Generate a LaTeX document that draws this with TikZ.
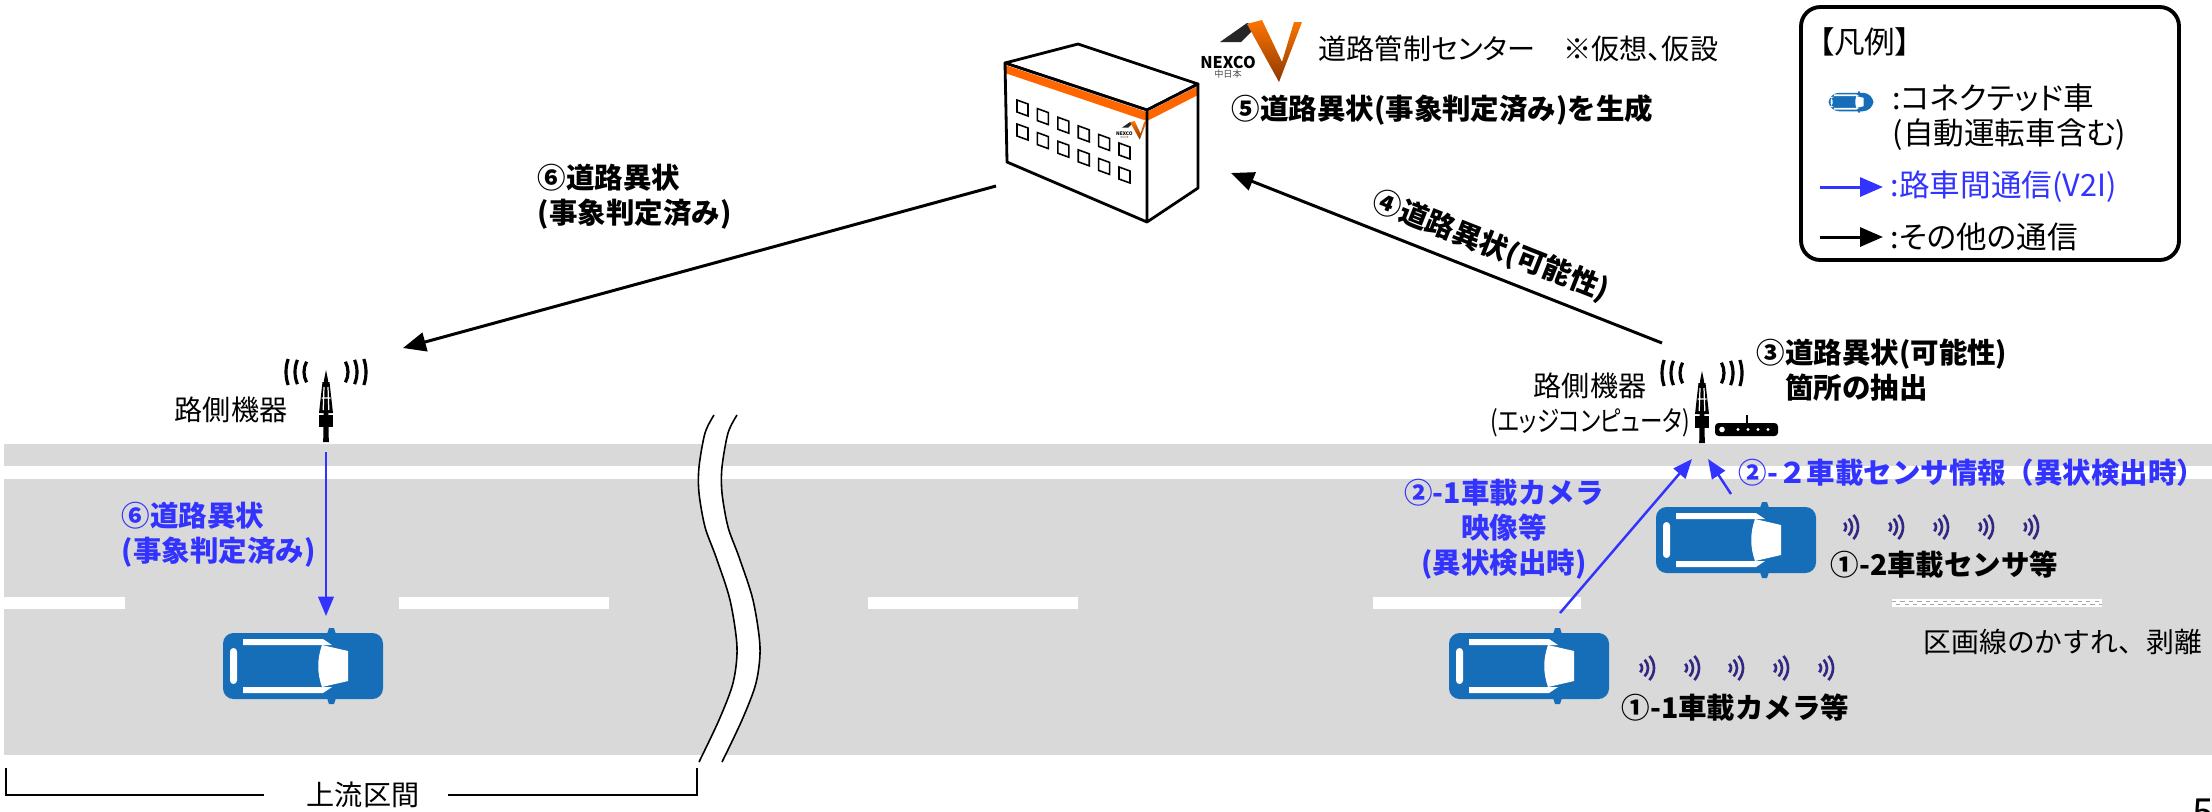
\documentclass[tikz,border=0pt]{standalone}
\usepackage{fontspec}
\setmainfont{Noto Sans CJK JP}
\newfontfamily\jpr{Noto Sans CJK JP}[RawFeature=+palt]
\newfontfamily\jpn{Noto Sans CJK JP}[RawFeature=+palt, FakeStretch=0.8]
\usepackage{tikz}
\usetikzlibrary{arrows.meta}
\definecolor{roadgray}{RGB}{217,217,217}
\definecolor{v2iblue}{RGB}{51,51,255}
\definecolor{carblue}{RGB}{22,110,184}
\definecolor{ctrorange}{RGB}{255,102,0}
\definecolor{sigpurple}{RGB}{50,40,130}

\begin{document}
\begin{tikzpicture}[
  x=0.01cm, y=-0.01cm,
  txt/.style={inner sep=0pt, font=\jpr\fontsize{8}{10}\selectfont},
  lbl/.style={inner sep=0pt, font=\fontsize{8.1}{10}\selectfont\bfseries},
  bluelbl/.style={lbl, text=v2iblue},
  legtxt/.style={inner sep=0pt, align=left, font=\jpr\fontsize{8.7}{10}\selectfont},
  com/.style={-{Triangle[length=6.5pt, width=5.4pt]}, line width=0.85pt},
  v2i/.style={-{Triangle[length=5.5pt, width=4.4pt]}, line width=0.7pt, color=v2iblue},
  car/.pic={
    \fill[carblue, rounded corners=3pt] (-80,-33) rectangle (80,33);
    \fill[carblue] (24,-32) -- (26,-38) -- (31,-38) -- (33,-32) -- cycle;
    \fill[carblue] (24,32) -- (26,38) -- (31,38) -- (33,32) -- cycle;
    \fill[white, rounded corners=1pt] (-73,-18) rectangle (-66,18);
    \fill[white] (-60,-27) -- (20,-27) -- (29,-21) -- (-60,-21) -- cycle;
    \fill[white] (-60,27) -- (20,27) -- (29,21) -- (-60,21) -- cycle;
    \fill[white] (19,-21) -- (45,-15) -- (45,15) -- (19,21) .. controls (14,7) and (14,-7) .. (19,-21);
  },
  sig/.pic={
    \foreach \r/\a in {6/45, 12/44, 18/42}
      \draw[sigpurple, line width=0.75pt] (-\a:\r) arc[start angle=-\a, end angle=\a, radius=\r];
  },
  rsu/.pic={
    \fill (0,-72) -- (2,-62) -- (2.8,0) -- (-2.8,0) -- (-2,-62) -- cycle;
    \fill (-3.5,-60) -- (3.5,-60) -- (7,-29) -- (-7,-29) -- cycle;
    \draw[white, line width=0.35pt] (-2,-55) -- (-2.8,-32) (2,-55) -- (2.8,-32) (-4.5,-44) -- (4.5,-44);
    \fill (-7,-27) rectangle (7,-15);
    \foreach \r/\a in {22/28, 31/23, 40/19} {
      \draw[line width=0.9pt] (0,-70) ++(180-\a:\r) arc[start angle=180-\a, end angle=180+\a, radius=\r];
      \draw[line width=0.9pt] (0,-70) ++(-\a:\r) arc[start angle=-\a, end angle=\a, radius=\r];
    }
  },
  nexco/.pic={
    \fill[black!85] (-30,-8) -- (-3,-27) -- (7,-24) -- (-9,-8) -- cycle;
    \shade[top color=ctrorange!90!yellow, bottom color=ctrorange!55!black]
      (-3,-26) -- (12,-30) -- (32,12) -- (44,-28) -- (52,-28) -- (29,32) -- cycle;
    \node[inner sep=0pt, font=\bfseries\fontsize{4.6}{5}\selectfont] (-name) at (-22,12) {NEXCO};
    \node[inner sep=0pt, text=black!70, font=\fontsize{2.6}{3}\selectfont] (-sub) at (-22,24) {中日本};
  }
]
  \path[use as bounding box, fill=white] (0,0) rectangle (2212,811);

  \fill[roadgray] (4,444) rectangle (2212,466);
  \fill[roadgray] (4,479) rectangle (2212,755);
  \foreach \a/\b in {4/125, 399/609, 868/1078, 1373/1581}
    \fill[white] (\a,597) rectangle (\b,609);
  \fill[white] (1892,599) rectangle (2102,607);
  \draw[black!35, line width=0.5pt, dash pattern=on 1.2pt off 1.2pt] (1892,601.5) -- (2102,601.5);
  \draw[black!35, line width=0.5pt, dash pattern=on 1.2pt off 1.2pt, dash phase=1.2pt] (1892,604.5) -- (2102,604.5);

  \fill[white] plot[smooth] coordinates {(714,415) (705,433) (699,467) (699,493) (705,527) (716,557) (730,600) (737,647) (733,683) (719,720) (699,762)}
    -- plot[smooth] coordinates {(722,762) (742,720) (756,683) (760,647) (753,600) (739,557) (728,527) (722,493) (722,467) (728,433) (737,415)} -- cycle;
  \draw[line width=0.45pt] plot[smooth] coordinates {(714,415) (705,433) (699,467) (699,493) (705,527) (716,557) (730,600) (737,647) (733,683) (719,720) (699,762)};
  \draw[line width=0.45pt] plot[smooth] coordinates {(737,415) (728,433) (722,467) (722,493) (728,527) (739,557) (753,600) (760,647) (756,683) (742,720) (722,762)};

  \node[txt] (upstream) at (363,795) {上流区間};
  \coordinate (brkL) at (6,768);
  \coordinate (brkR) at (697,768);
  \draw[line width=0.4pt] (brkL) |- ([xshift=-12pt]upstream.west);
  \draw[line width=0.4pt] (brkR) |- ([xshift=8pt]upstream.east);

  \filldraw[fill=white, line width=0.8pt, line join=round] (1005,63) -- (1078,44) -- (1198,84) -- (1147,110) -- cycle;
  \fill[white] (1005,63) -- (1147,110) -- (1147,222) -- (1007,162) -- cycle;
  \fill[white] (1147,110) -- (1198,84) -- (1198,188) -- (1147,222) -- cycle;
  \fill[ctrorange] (1005,65) -- (1147,112) -- (1147,121) -- (1005,73) -- cycle;
  \fill[ctrorange] (1147,112) -- (1198,86) -- (1198,95) -- (1147,121) -- cycle;
  \foreach \r in {0,1}
    \foreach \i in {0,...,5}
      \draw[line width=0.45pt] ({1017+20.4*\i},{100+8.6*\i+24*\r}) -- ++(11,4) -- ++(0,12) -- ++(-11,-4) -- cycle;
  \pic[scale=0.3, transform shape] (ctrlogo) at (1131,130) {nexco};
  \draw[line width=0.8pt, line join=round] (1005,63) -- (1147,110) -- (1147,222) -- (1007,162) -- cycle
    (1147,110) -- (1198,84) -- (1198,188) -- (1147,222);

  \pic (logo) at (1250,50) {nexco};
  \node[txt, anchor=west] (ctrname) at (1318,49) {道路管制センター　※仮想、仮設};
  \node[lbl, anchor=west] (gen5) at (1231,110) {⑤道路異状(事象判定済み)を生成};

  \pic (rsuL) at (326,442) {rsu};
  \node[txt] (rsuLname) at (231,410) {路側機器};
  \pic (rsuR) at (1702,443) {rsu};
  \fill[rounded corners=1pt] (1715,423) rectangle (1778,436);
  \draw[line width=0.6pt] (1747,415) -- (1747,423);
  \fill[white] (1722,429.5) circle[radius=2.8];
  \foreach \x in {1738,1748,1758,1768}
    \fill[white] (\x,429.5) circle[radius=1.6];
  \node[txt, align=center] (rsuRname) at (1590,405) {路側機器\\{\jpn(エッジコンピュータ)}};
  \node[lbl, align=left, anchor=west] (lbl3) at (1756,370) {③道路異状(可能性)\\　箇所の抽出};

  \pic (carL) at (303,666) {car};
  \pic (car1) at (1529,666) {car};
  \pic (car2) at (1736,540) {car};
  \foreach \x in {1636,1681,1725,1770,1815}
    \pic at (\x,668) {sig};
  \foreach \x in {1840,1885,1930,1975,2020}
    \pic at (\x,527) {sig};

  \node[lbl, anchor=west] (lbl11) at (1621,708) {①-1車載カメラ等};
  \node[lbl, anchor=west] (lbl12) at (1830,565) {①-2車載センサ等};
  \node[inner sep=0pt, anchor=west, font=\fontsize{7.9}{10}\selectfont] (fade) at (1923,642) {区画線のかすれ、剥離};

  \coordinate (ctrL) at (996,186);
  \coordinate (ctrR) at (1231,173);
  \coordinate (rsuLin) at (403,348);
  \coordinate (rsuRout) at (1662,343);
  \coordinate (rsuLbot) at (326,452);
  \coordinate (carLtop) at (326,616);
  \coordinate (rsuRb1) at (1692,459);
  \coordinate (rsuRb2) at (1708,459);
  \coordinate (car1top) at (1560,613);
  \coordinate (car2top) at (1731,494);

  \draw[com] (ctrL) -- (rsuLin);
  \node[lbl, align=left, anchor=west] (lbl6) at (537,197) {⑥道路異状\\(事象判定済み)};
  \draw[com] (rsuRout) -- node[lbl, sloped, above=3pt, pos=0.42] (lbl4) {④道路異状(可能性)} (ctrR);

  \draw[v2i] (rsuLbot) -- (carLtop);
  \node[bluelbl, align=left, anchor=west] (lbl6b) at (121,535) {⑥道路異状\\(事象判定済み)};
  \draw[v2i] (car1top) -- (rsuRb1);
  \draw[v2i] (car2top) -- (rsuRb2);
  \node[bluelbl, align=center] (lbl21) at (1504,529) {②-1車載カメラ\\映像等\\(異状検出時)};
  \node[bluelbl, anchor=west] (lbl22) at (1738,473) {②-２車載センサ情報（異状検出時）};

  \draw[line width=1.1pt, rounded corners=5.5pt] (1801,7) rectangle (2179,260);
  \node[legtxt, anchor=west] (legtitle) at (1818,42) {【凡例】};
  \pic[scale=0.28] (legcar) at (1851,102) {car};
  \node[legtxt, anchor=west] (legcartxt) at (1892,117) {:コネクテッド車\\(自動運転車含む)};
  \coordinate (legv2i) at (1820,187);
  \node[legtxt, anchor=west, text=v2iblue] (legv2itxt) at (1890,187) {:路車間通信(V2I)};
  \coordinate (legcom) at (1820,237);
  \node[legtxt, anchor=west] (legcomtxt) at (1890,237) {:その他の通信};
  \draw[com, color=v2iblue] (legv2i) -- ([xshift=-2pt]legv2itxt.west);
  \draw[com] (legcom) -- ([xshift=-2pt]legcomtxt.west);

  \node[inner sep=0pt, anchor=base west, font=\fontsize{11}{12}\selectfont] (pgnum) at (2192,826) {5};
\end{tikzpicture}
\end{document}
